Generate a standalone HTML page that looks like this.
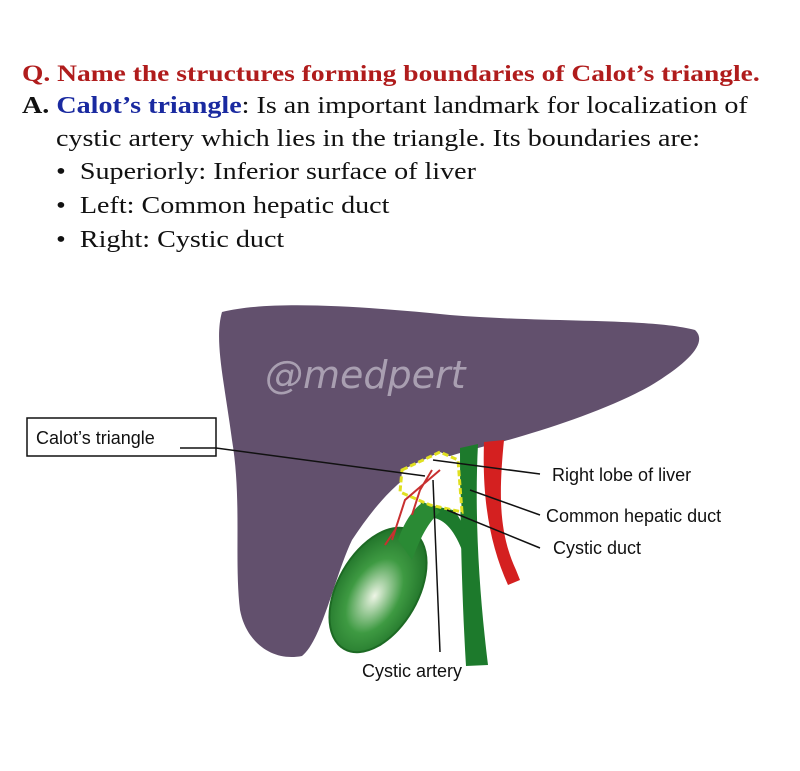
<!DOCTYPE html>
<html><head><style>
body{margin:0;background:#fff;width:800px;height:771px;overflow:hidden;position:relative;font-family:"Liberation Serif",serif;}
.t{position:absolute;white-space:nowrap;font-size:24px;color:#111;transform:scaleX(1.17);transform-origin:0 0;}
</style></head><body>
<div class="t" style="left:22px;top:61px;color:#b01c1c;font-weight:bold;font-size:23.5px">Q. Name the structures forming boundaries of Calot’s triangle.</div>
<div class="t" style="left:22px;top:93px"><b>A.</b> <b style="color:#1a2aa0">Calot’s triangle</b>: Is an important landmark for localization of</div>
<div class="t" style="left:56px;top:126px">cystic artery which lies in the triangle. Its boundaries are:</div>
<div class="t" style="left:56px;top:159px">•&nbsp;&nbsp;Superiorly: Inferior surface of liver</div>
<div class="t" style="left:56px;top:193px">•&nbsp;&nbsp;Left: Common hepatic duct</div>
<div class="t" style="left:56px;top:227px">•&nbsp;&nbsp;Right: Cystic duct</div>
<svg width="800" height="771" style="position:absolute;left:0;top:0" font-family="Liberation Sans, sans-serif">
<defs><radialGradient id="g" cx="0.5" cy="0.55" r="0.6"><stop offset="0" stop-color="#eef5e6"/><stop offset="0.5" stop-color="#3e9a42"/><stop offset="1" stop-color="#1a6a24"/></radialGradient></defs>
<path d="M222,312 C270,300 360,306 450,315 C550,323 650,318 695,330 C708,342 690,362 650,386 C600,414 520,438 470,450 L430,462 C395,480 372,510 352,540 C335,575 322,640 302,656 C272,662 246,642 240,610 C234,560 242,500 232,440 C224,380 214,340 222,312Z" fill="#62506d"/>
<path d="M484,442 L504,440 C498,500 500,535 516,570 L520,580 L508,585 C490,545 482,500 484,442Z" fill="#d42020"/>
<path d="M460,448 L478,444 C474,520 480,600 488,665 L466,666 C462,600 460,520 460,448Z" fill="#1d7a2c"/>
<path d="M420,500 C445,495 460,510 468,540 L462,550 C452,525 440,515 424,518Z" fill="#1d7a2c"/>
<ellipse cx="378" cy="590" rx="40" ry="68" transform="rotate(30 378 590)" fill="url(#g)" stroke="#1d6a24" stroke-width="2"/>
<path d="M398,540 C405,520 415,505 428,500 L440,512 C425,525 418,545 412,560Z" fill="#2a8a34"/>
<path d="M402,470 L440,452 L458,460 L462,512 L430,505 L400,492 Z" fill="#fff" stroke="#e0e020" stroke-width="3" stroke-dasharray="6 3"/>
<path d="M432,470 L420,490 M440,470 L405,500 L392,540 M420,490 L412,515 M395,530 L385,545" stroke="#c83030" stroke-width="2" fill="none"/>
<rect x="27" y="418" width="189" height="38" fill="#fff" stroke="#111" stroke-width="1.5"/>
<text x="36" y="444" font-size="18" fill="#111">Calot’s triangle</text>
<g stroke="#111" stroke-width="1.5" fill="none">
<path d="M180,448 L216,448 L425,476"/>
<path d="M433,460 L540,474"/>
<path d="M470,490 L540,515"/>
<path d="M447,510 L540,548"/>
<path d="M433,480 L440,652"/>
</g>
<g font-size="18" fill="#111">
<text x="552" y="481">Right lobe of liver</text>
<text x="546" y="522">Common hepatic duct</text>
<text x="553" y="554">Cystic duct</text>
<text x="362" y="677">Cystic artery</text>
</g>
<text x="265" y="388" font-size="38" font-style="italic" font-family="DejaVu Sans, sans-serif" fill="#a99fb1">@medpert</text>
</svg>
</body></html>
